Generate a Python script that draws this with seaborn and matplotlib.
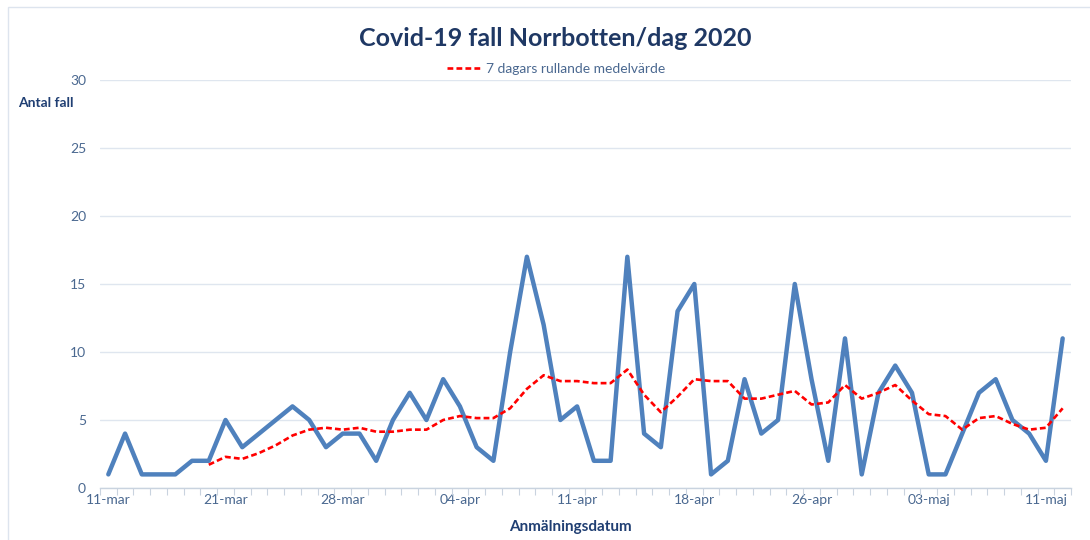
import numpy as np
import pandas as pd
import matplotlib
matplotlib.use("Agg")
import matplotlib.pyplot as plt
import seaborn as sns

# daglig antal fall, 11 mars - 12 maj (kategoriaxel, 58 punkter)
daily_cases = [1, 4, 1, 1, 1, 2, 2, 5, 3, 4, 5, 6, 5, 3, 4, 4, 2, 5, 7, 5,
               8, 6, 3, 2, 10, 17, 12, 5, 6, 2, 2, 17, 4, 3, 13, 15, 1, 2, 8, 4,
               5, 15, 8, 2, 11, 1, 7, 9, 7, 1, 1, 4, 7, 8, 5, 4, 2, 11]

# 7 dagars rullande medelvärde (avläst), saknas för de första sex dagarna
rolling_mean = [np.nan] * 6 + [
    1.71, 2.29, 2.14, 2.57, 3.14, 3.86, 4.29, 4.43, 4.29, 4.43, 4.14, 4.14,
    4.29, 4.29, 5.00, 5.29, 5.14, 5.14, 5.86, 7.29, 8.29, 7.86, 7.86, 7.71,
    7.71, 8.71, 6.86, 5.57, 6.71, 8.00, 7.86, 7.86, 6.57, 6.57, 6.86, 7.14,
    6.14, 6.29, 7.57, 6.57, 7.00, 7.57, 6.43, 5.43, 5.29, 4.29, 5.14, 5.29,
    4.71, 4.29, 4.43, 5.86]

tick_labels = ["11-mar", "21-mar", "28-mar", "04-apr", "11-apr",
               "18-apr", "26-apr", "03-maj", "11-maj"]
y_ticks = [0, 5, 10, 15, 20, 25, 30]

df = pd.DataFrame({"dag": np.arange(len(daily_cases)),
                   "fall": daily_cases,
                   "medel": rolling_mean})

sns.set_theme(style="white")
plt.rcParams["font.family"] = ["Lato", "DejaVu Sans"]

navy = "#1f3864"
label_col = "#203f73"
tick_col = "#4a6890"
grid_col = "#dfe6ef"

fig = plt.figure(figsize=(10.9, 5.4), dpi=100)
ax = fig.add_axes([0.0917, 0.0963, 0.8909, 0.7556])

sns.lineplot(data=df, x="dag", y="fall", ax=ax, color="#4f81bd",
             linewidth=3.2, legend=False)
sns.lineplot(data=df, x="dag", y="medel", ax=ax, color="#ff0000",
             linewidth=1.9, linestyle=(0, (2.2, 1.2)), label="7 dagars rullande medelvärde")

ax.set_xlim(-0.5, len(daily_cases) - 0.5)
ax.set_ylim(0, 30)
ax.set_yticks(y_ticks)
ax.set_yticklabels([str(v) for v in y_ticks])
ax.set_xticks(np.arange(0, len(daily_cases), 7))
ax.set_xticklabels(tick_labels)
ax.set_xticks(np.arange(-0.5, len(daily_cases), 1), minor=True)
ax.tick_params(axis="x", which="major", length=0, pad=4, labelsize=10, labelcolor=tick_col)
ax.tick_params(axis="x", which="minor", length=5, width=0.8, color="#c9d3df", bottom=True)
ax.tick_params(axis="y", length=0, pad=10, labelsize=10, labelcolor=tick_col)

ax.yaxis.grid(True, color=grid_col, linewidth=1)
ax.set_axisbelow(True)
for s in ["top", "right", "left"]:
    ax.spines[s].set_visible(False)
ax.spines["bottom"].set_color("#c9d3df")
ax.spines["bottom"].set_linewidth(1)

ax.set_xlabel("")
ax.set_ylabel("")
fig.text(0.523, 0.024, "Anmälningsdatum", ha="center", va="center",
         fontsize=11, fontweight="bold", color=label_col)
fig.text(0.017, 0.81, "Antal fall", ha="left", va="center",
         fontsize=10, fontweight="bold", color=label_col)
fig.text(0.509, 0.929, "Covid-19 fall Norrbotten/dag 2020", ha="center", va="center",
         fontsize=18, fontweight="bold", color=navy)

leg = ax.legend(loc="center", bbox_to_anchor=(0.51, 0.872), bbox_transform=fig.transFigure,
                frameon=False, fontsize=10, handlelength=2.4, handletextpad=0.4)
for t in leg.get_texts():
    t.set_color(tick_col)

# tunn ram runt diagramytan
fig.patches.append(plt.Rectangle((0.007, -0.01), 1.0, 0.997, transform=fig.transFigure,
                                 fill=False, edgecolor="#dde4ee", linewidth=1))

fig.savefig("out.png", dpi=100, facecolor="white")
